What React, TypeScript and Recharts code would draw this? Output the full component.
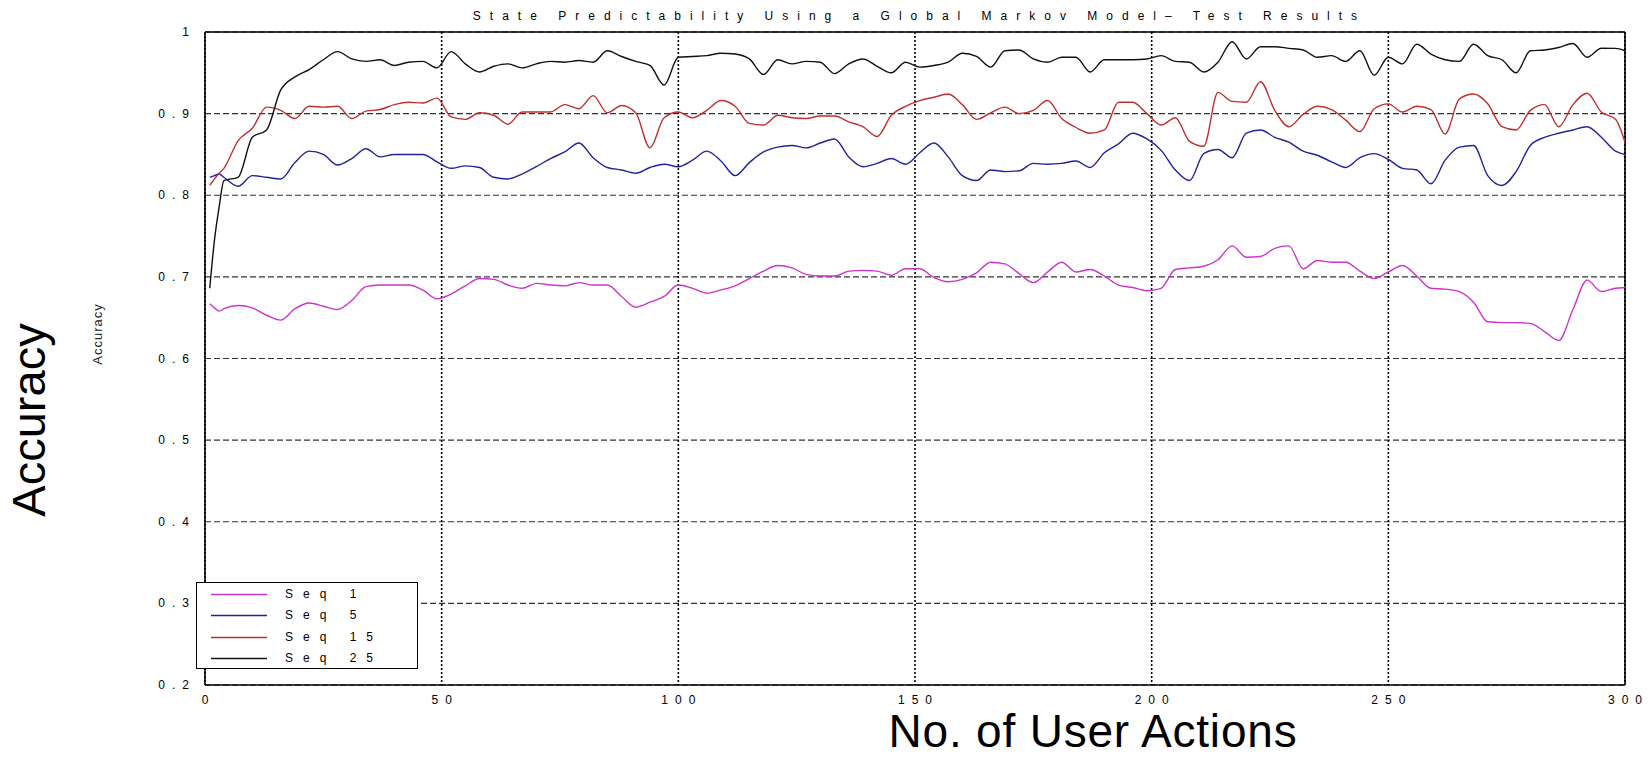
import React from 'react';
import { LineChart, Line, XAxis, YAxis, CartesianGrid, ReferenceLine, Legend } from 'recharts';

const actions = [
  1, 2, 3, 4, 7, 10, 13, 16, 19, 22, 25, 28, 31, 34, 37, 40, 43, 46, 49, 52, 55, 58, 61, 64, 67, 70, 73,
  76, 79, 82, 85, 88, 91, 94, 97, 100, 103, 106, 109, 112, 115, 118, 121, 124, 127, 130, 133, 136, 139, 142, 145, 148,
  151, 154, 157, 160, 163, 166, 169, 172, 175, 178, 181, 184, 187, 190, 193, 196, 199, 202, 205, 208, 211, 214, 217, 220, 223,
  226, 229, 232, 235, 238, 241, 244, 247, 250, 253, 256, 259, 262, 265, 268, 271, 274, 277, 280, 283, 286, 289, 292, 295, 298, 300,
];

const seq1 = [
  0.667, 0.662, 0.658, 0.661, 0.665, 0.662, 0.653, 0.647, 0.661, 0.668, 0.664, 0.660, 0.671, 0.688, 0.690, 0.690, 0.690, 0.684, 0.673, 0.679, 0.689, 0.698, 0.697, 0.690, 0.686, 0.692, 0.690,
  0.689, 0.693, 0.690, 0.690, 0.676, 0.663, 0.669, 0.676, 0.690, 0.686, 0.680, 0.684, 0.689, 0.698, 0.707, 0.714, 0.711, 0.703, 0.701, 0.701, 0.707, 0.708, 0.707, 0.702, 0.710,
  0.710, 0.699, 0.694, 0.697, 0.705, 0.718, 0.716, 0.704, 0.693, 0.706, 0.718, 0.706, 0.709, 0.701, 0.690, 0.687, 0.683, 0.686, 0.709, 0.711, 0.713, 0.721, 0.738, 0.724, 0.725,
  0.735, 0.738, 0.710, 0.720, 0.718, 0.718, 0.707, 0.698, 0.706, 0.714, 0.701, 0.686, 0.685, 0.682, 0.669, 0.645, 0.644, 0.644, 0.643, 0.633, 0.622, 0.660, 0.696, 0.682, 0.686, 0.687,
];

const seq5 = [
  0.822, 0.824, 0.826, 0.822, 0.811, 0.824, 0.822, 0.820, 0.840, 0.854, 0.850, 0.837, 0.845, 0.857, 0.847, 0.850, 0.850, 0.850, 0.841, 0.833, 0.836, 0.834, 0.822, 0.820, 0.826, 0.835, 0.845,
  0.853, 0.864, 0.846, 0.834, 0.831, 0.827, 0.834, 0.838, 0.835, 0.843, 0.854, 0.842, 0.824, 0.840, 0.853, 0.859, 0.861, 0.858, 0.864, 0.869, 0.847, 0.835, 0.839, 0.845, 0.838,
  0.852, 0.864, 0.847, 0.824, 0.818, 0.831, 0.829, 0.830, 0.839, 0.838, 0.839, 0.842, 0.834, 0.852, 0.863, 0.876, 0.869, 0.855, 0.831, 0.818, 0.851, 0.856, 0.846, 0.876, 0.880,
  0.871, 0.865, 0.854, 0.849, 0.841, 0.834, 0.846, 0.851, 0.844, 0.833, 0.831, 0.814, 0.843, 0.859, 0.861, 0.824, 0.812, 0.829, 0.861, 0.871, 0.876, 0.880, 0.884, 0.871, 0.854, 0.850,
];

const seq15 = [
  0.812, 0.820, 0.827, 0.833, 0.867, 0.882, 0.908, 0.904, 0.894, 0.909, 0.908, 0.909, 0.894, 0.903, 0.905, 0.911, 0.914, 0.913, 0.919, 0.896, 0.893, 0.901, 0.898, 0.887, 0.902, 0.902, 0.902,
  0.911, 0.906, 0.922, 0.901, 0.910, 0.901, 0.858, 0.895, 0.902, 0.895, 0.904, 0.916, 0.909, 0.888, 0.886, 0.898, 0.895, 0.894, 0.897, 0.897, 0.890, 0.884, 0.872, 0.898, 0.909,
  0.916, 0.920, 0.924, 0.911, 0.893, 0.901, 0.908, 0.900, 0.904, 0.916, 0.894, 0.883, 0.876, 0.880, 0.914, 0.914, 0.900, 0.886, 0.895, 0.866, 0.860, 0.926, 0.915, 0.914, 0.939,
  0.904, 0.884, 0.899, 0.909, 0.905, 0.892, 0.878, 0.906, 0.912, 0.902, 0.909, 0.905, 0.875, 0.918, 0.924, 0.912, 0.884, 0.880, 0.904, 0.911, 0.884, 0.911, 0.925, 0.902, 0.893, 0.865,
];

const seq25 = [
  0.686, 0.745, 0.786, 0.818, 0.822, 0.871, 0.880, 0.929, 0.945, 0.954, 0.966, 0.976, 0.967, 0.964, 0.966, 0.959, 0.963, 0.964, 0.956, 0.976, 0.961, 0.951, 0.958, 0.961, 0.956, 0.961, 0.964,
  0.963, 0.965, 0.963, 0.977, 0.970, 0.964, 0.959, 0.935, 0.969, 0.970, 0.971, 0.974, 0.973, 0.967, 0.948, 0.966, 0.961, 0.964, 0.963, 0.949, 0.961, 0.967, 0.958, 0.950, 0.963,
  0.957, 0.959, 0.963, 0.974, 0.970, 0.957, 0.977, 0.978, 0.967, 0.963, 0.969, 0.969, 0.951, 0.966, 0.966, 0.966, 0.967, 0.971, 0.964, 0.963, 0.951, 0.963, 0.988, 0.967, 0.982,
  0.982, 0.980, 0.978, 0.969, 0.971, 0.964, 0.977, 0.947, 0.969, 0.961, 0.985, 0.973, 0.966, 0.964, 0.985, 0.971, 0.966, 0.950, 0.977, 0.978, 0.981, 0.986, 0.969, 0.980, 0.980, 0.977,
];

const xTicks = [0, 50, 100, 150, 200, 250, 300];
const yTicks = [0.2, 0.3, 0.4, 0.5, 0.6, 0.7, 0.8, 0.9, 1];

const seriesNames = ['Seq 1', 'Seq 5', 'Seq 15', 'Seq 25'];
const seriesKeys = ['seq1', 'seq5', 'seq15', 'seq25'];
const seriesColors = ['#cc33cc', '#22229c', '#c02f2f', '#111111'];
const seriesValues = [seq1, seq5, seq15, seq25];

const data = actions.map((a, i) => {
  const row: Record<string, number> = { x: a };
  seriesKeys.forEach((k, s) => {
    row[k] = seriesValues[s][i];
  });
  return row;
});

const FONT = '"Liberation Sans", Arial, Helvetica, sans-serif';
const TITLE_LS = 9;
const Y_LS = 7;
const X_LS = 7;

const YTick = (props: any) => {
  const { x, y, payload } = props;
  const v = Number(payload.value);
  const label = v === 1 ? '1' : v.toFixed(1);
  return (
    <text x={x} y={y} dy={4} textAnchor="end" fontSize={12} fontFamily={FONT} fill="#000" style={{ letterSpacing: `${Y_LS}px` }}>
      {label}
    </text>
  );
};

const XTick = (props: any) => {
  const { x, y, payload } = props;
  return (
    <text x={x + X_LS / 2} y={y} dy={13} textAnchor="middle" fontSize={12} fontFamily={FONT} fill="#000" style={{ letterSpacing: `${X_LS}px` }}>
      {String(payload.value)}
    </text>
  );
};

const LegendBox = (props: any) => {
  const payload = [...(props.payload || [])].sort(
    (a: any, b: any) => seriesNames.indexOf(a.value) - seriesNames.indexOf(b.value)
  );
  return (
    <div
      style={{
        width: 222,
        height: 87,
        boxSizing: 'border-box',
        border: '1.5px solid #000',
        background: '#fff',
        paddingTop: 1,
      }}
    >
      {payload.map((p: any, i: number) => (
        <div key={i} style={{ height: 21.3, display: 'flex', alignItems: 'center' }}>
          <svg width={88} height={21} style={{ display: 'block' }}>
            <line x1={14} x2={70} y1={10.5} y2={10.5} stroke={p.color} strokeWidth={1.5} />
          </svg>
          <span
            style={{
              fontFamily: FONT,
              fontSize: 12,
              letterSpacing: '10px',
              color: '#000',
              whiteSpace: 'pre',
              lineHeight: '21px',
            }}
          >
            {p.value}
          </span>
        </div>
      ))}
    </div>
  );
};

export default function App() {
  return (
    <div style={{ position: 'absolute', left: 0, top: 0, width: 1651, height: 758, background: '#fff', overflow: 'hidden' }}>
      <LineChart width={1651} height={758} data={data} margin={{ top: 32, right: 26, bottom: 0, left: 0 }}>
        <CartesianGrid vertical={false} stroke="#333" strokeDasharray="6 3" strokeWidth={1.2} />
        <CartesianGrid horizontal={false} stroke="#000" strokeDasharray="2 2" strokeWidth={1.6} />
        <XAxis
          dataKey="x"
          type="number"
          domain={[0, 300]}
          ticks={xTicks}
          allowDataOverflow
          height={73}
          tickLine={false}
          tickSize={0}
          tickMargin={6}
          axisLine={{ stroke: '#000', strokeWidth: 1.6 }}
          tick={<XTick />}
          interval={0}
        />
        <YAxis
          type="number"
          domain={[0.2, 1]}
          ticks={yTicks}
          allowDataOverflow
          width={205}
          tickLine={false}
          tickSize={0}
          tickMargin={9}
          axisLine={{ stroke: '#000', strokeWidth: 1.6 }}
          tick={<YTick />}
          interval={0}
        />
        <ReferenceLine y={1} stroke="#000" strokeWidth={1.6} />
        <ReferenceLine x={300} stroke="#000" strokeWidth={1.6} />
        {seriesKeys.map((k, s) => (
          <Line
            key={k}
            type="monotone"
            dataKey={k}
            name={seriesNames[s]}
            stroke={seriesColors[s]}
            strokeWidth={1.4}
            dot={false}
            activeDot={false}
            isAnimationActive={false}
          />
        ))}
        <Legend
          layout="vertical"
          align="center"
          verticalAlign="middle"
          content={<LegendBox />}
          wrapperStyle={{ position: 'absolute', left: 196, top: 582, width: 222, height: 87 }}
        />
      </LineChart>
      <svg width={1651} height={758} style={{ position: 'absolute', left: 0, top: 0, pointerEvents: 'none' }}>
        <text x={915 + TITLE_LS / 2} y={20} textAnchor="middle" fontSize={12} fontFamily={FONT} fill="#000" style={{ letterSpacing: `${TITLE_LS}px` }}>
          State Predictability Using a Global Markov Model– Test Results
        </text>
        <text transform="translate(45,420) rotate(-90)" textAnchor="middle" fontSize={47} fontFamily={FONT} fill="#000">
          Accuracy
        </text>
        <text transform="translate(102,334) rotate(-90)" textAnchor="middle" fontSize={13} fontFamily={FONT} fill="#222" style={{ letterSpacing: '1px' }}>
          Accuracy
        </text>
        <text x={1093} y={747} textAnchor="middle" fontSize={46} fontFamily={FONT} fill="#000" style={{ letterSpacing: '0.8px' }}>
          No. of User Actions
        </text>
      </svg>
    </div>
  );
}
